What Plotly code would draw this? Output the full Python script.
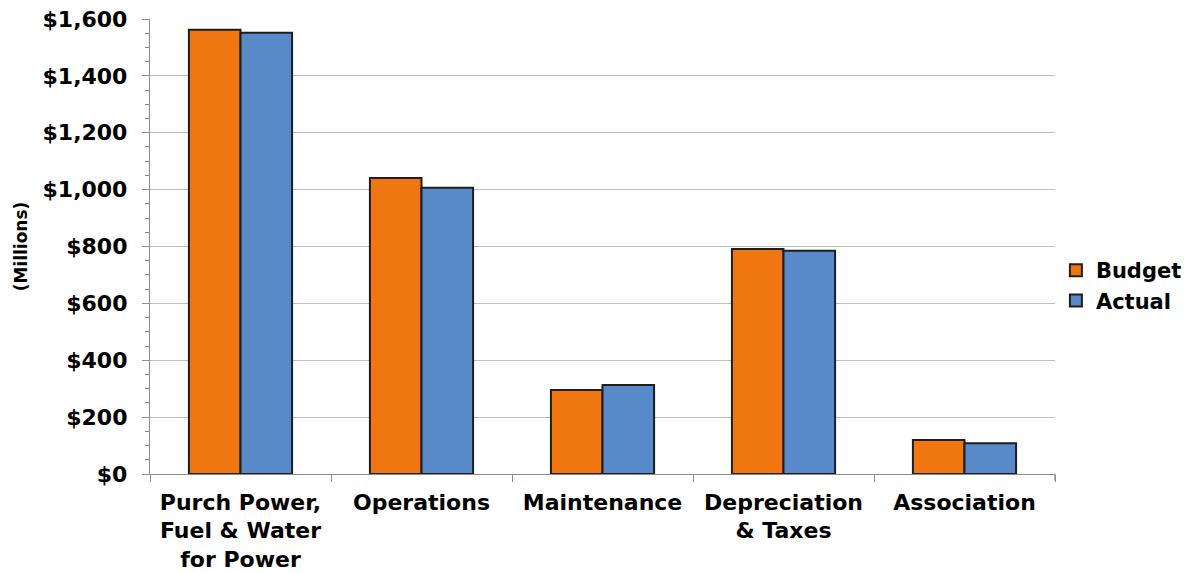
import plotly.graph_objects as go

categories = ["Purch Power,<br>Fuel & Water<br>for Power", "Operations", "Maintenance",
              "Depreciation<br>& Taxes", "Association"]
budget = [1562, 1041, 295, 791, 120]
actual = [1552, 1007, 313, 785, 108]

FONT = "DejaVu Sans, Liberation Sans, Arial, sans-serif"

fig = go.Figure()
fig.add_trace(go.Bar(name="Budget", x=categories, y=budget,
                     marker=dict(color="#F07612", line=dict(color="#1e1e1e", width=2))))
fig.add_trace(go.Bar(name="Actual", x=categories, y=actual,
                     marker=dict(color="#588AC9", line=dict(color="#1e1e1e", width=2))))

fig.update_layout(
    width=1184, height=565,
    margin=dict(l=142, r=137, t=11, b=99, autoexpand=False),
    paper_bgcolor="white", plot_bgcolor="white",
    barmode="group", bargap=0.43, bargroupgap=0,
    font=dict(family=FONT, color="black"),
    legend=dict(x=1.001, y=0.414, yanchor="middle", xanchor="left",
                bgcolor="rgba(0,0,0,0)",
                font=dict(family=FONT, size=21, weight="bold", color="black"),
                tracegroupgap=0, itemwidth=30),
    showlegend=True,
)
fig.update_yaxes(
    automargin=False,
    range=[0, 1600], dtick=200, tickprefix="$", tickformat=",d",
    showgrid=True, gridcolor="#bdbdbd", gridwidth=1.3,
    showline=True, linecolor="#8c8c8c", linewidth=1.3,
    ticks="outside", ticklen=7, tickcolor="#8c8c8c", ticklabelstandoff=10,
    ticklabeloverflow="allow",
    minor=dict(dtick=50, ticks="outside", ticklen=4, tickcolor="#8c8c8c", showgrid=False),
    tickfont=dict(family=FONT, size=22, weight="bold", color="black"),
    title=dict(text="(Millions)", font=dict(family=FONT, size=17, weight="bold", color="black"), standoff=10),
    zeroline=False,
)
fig.update_xaxes(
    automargin=False,
    showline=True, linecolor="#8c8c8c", linewidth=1.3, mirror=False,
    ticks="outside", tickson="boundaries", ticklen=7, tickcolor="#8c8c8c", ticklabelstandoff=8,
    ticklabeloverflow="allow",
    tickfont=dict(family=FONT, size=22, weight="bold", color="black"),
)
fig.add_shape(type="line", xref="paper", yref="paper", x0=1, x1=1, y0=0, y1=-0.015,
              line=dict(color="#8c8c8c", width=1.3))

fig.write_html("out.html")
